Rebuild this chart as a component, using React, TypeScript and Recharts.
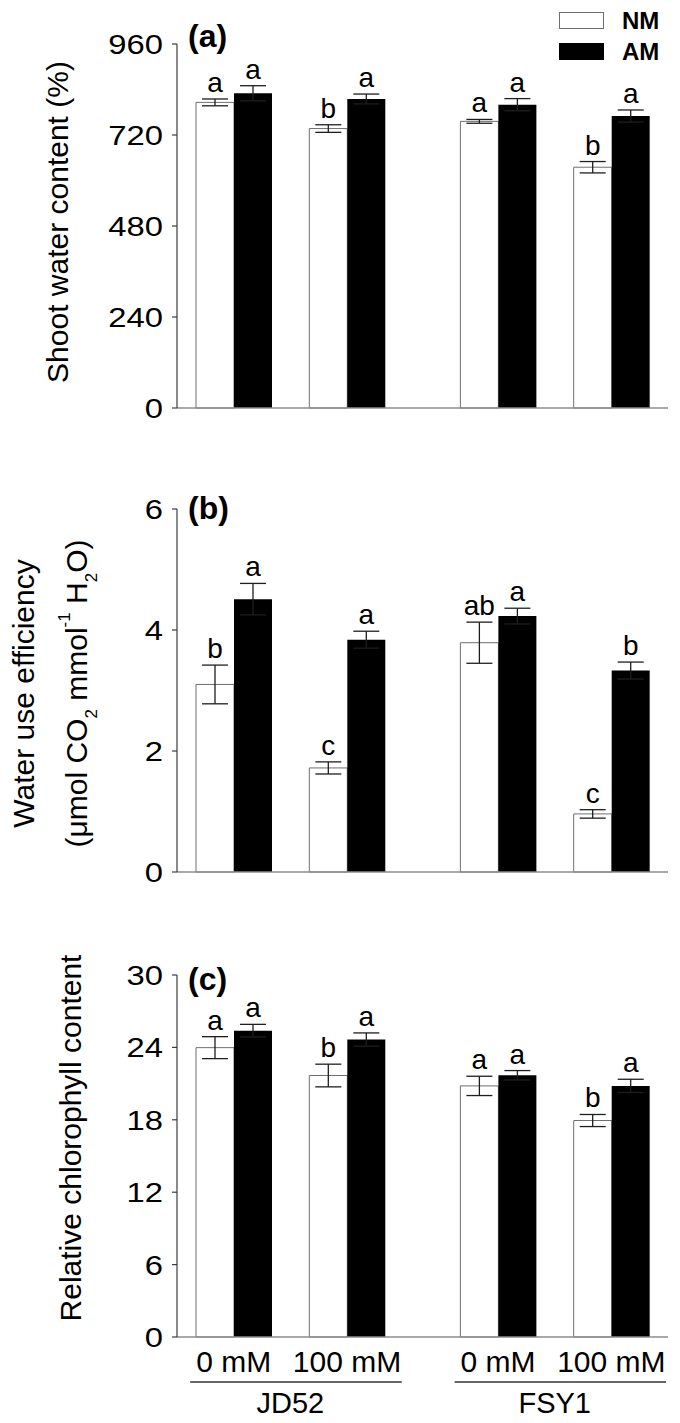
import {
  Bar,
  BarChart,
  ErrorBar,
  LabelList,
  Legend,
  XAxis,
  YAxis,
} from "recharts";

const FONT = "'Liberation Sans', Arial, Helvetica, sans-serif";
const COLOR_AXIS = "#3c3c3c";
const COLOR_BASE = "#8c8c8c";
const COLOR_NM_EDGE = "#6f6f6f";
const COLOR_ERR = "#1e1e1e";

// treatments and genotypes
const genotypes = ["JD52", "FSY1"];
const salinity = ["0 mM", "100 mM"];
const seriesNames = ["NM", "AM"];

// (a) shoot water content (%)
const swcNM = [806, 737, 756, 635];
const swcNMErr = [9, 10, 5, 15];
const swcAM = [830, 815, 800, 770];
const swcAMErr = [20, 13, 16, 16];
const swcNMSig = ["a", "b", "a", "b"];
const swcAMSig = ["a", "a", "a", "a"];
const swcTicks = [0, 240, 480, 720, 960];

// (b) water use efficiency
const wueNM = [3.1, 1.72, 3.79, 0.96];
const wueNMErr = [0.32, 0.1, 0.34, 0.07];
const wueAM = [4.51, 3.84, 4.23, 3.33];
const wueAMErr = [0.26, 0.14, 0.13, 0.14];
const wueNMSig = ["b", "c", "ab", "c"];
const wueAMSig = ["a", "a", "a", "b"];
const wueTicks = [0, 2, 4, 6];

// (c) relative chlorophyll content
const chlNM = [23.98, 21.67, 20.81, 17.94];
const chlNMErr = [0.91, 0.94, 0.8, 0.5];
const chlAM = [25.39, 24.65, 21.69, 20.81];
const chlAMErr = [0.52, 0.55, 0.39, 0.55];
const chlNMSig = ["a", "b", "a", "b"];
const chlAMSig = ["a", "a", "a", "a"];
const chlTicks = [0, 6, 12, 18, 24, 30];

// x layout: 13 bar-widths; each genotype = 2 x (2 bars + 1 gap), one extra gap between genotypes
const UNITS = 13;
const slotOf = (i: number) => 1.5 + 3 * (i % 2) + 7 * Math.floor(i / 2);
const genoCenter = (g: number) => 3 + 7 * g;

const CHART_W = 680;
const Y_AXIS_W = 177;
const RIGHT_M = 12;
const UNIT = (CHART_W - Y_AXIS_W - RIGHT_M) / UNITS;

type Row = {
  x: number;
  treatment: string;
  nm: number;
  nmErr: number;
  am: number;
  amErr: number;
  nmSig: string;
  amSig: string;
};

function buildRows(
  nm: number[],
  nmErr: number[],
  am: number[],
  amErr: number[],
  nmSig: string[],
  amSig: string[],
): Row[] {
  return nm.map((v, i) => ({
    x: slotOf(i),
    treatment: salinity[i % 2],
    nm: v,
    nmErr: nmErr[i],
    am: am[i],
    amErr: amErr[i],
    nmSig: nmSig[i],
    amSig: amSig[i],
  }));
}

const swcRows = buildRows(swcNM, swcNMErr, swcAM, swcAMErr, swcNMSig, swcAMSig);
const wueRows = buildRows(wueNM, wueNMErr, wueAM, wueAMErr, wueNMSig, wueAMSig);
const chlRows = buildRows(chlNM, chlNMErr, chlAM, chlAMErr, chlNMSig, chlAMSig);

// significance letter above the error bar
function sigLabel(rows: Row[], valueKey: "nm" | "am", errKey: "nmErr" | "amErr", sigKey: "nmSig" | "amSig") {
  return (props: any) => {
    const vb = props.viewBox ?? props;
    const row = rows[props.index];
    if (!row || !vb) return null;
    const h = Math.abs(Number(vb.height));
    const top = Math.min(Number(vb.y), Number(vb.y) + Number(vb.height));
    const errPx = (row[errKey] / row[valueKey]) * h;
    return (
      <text
        x={Number(vb.x) + Number(vb.width) / 2}
        y={top - errPx - 7}
        textAnchor="middle"
        fontFamily={FONT}
        fontSize={28}
        fill="#000"
      >
        {row[sigKey]}
      </text>
    );
  };
}

// y tick numbers are drawn a little wide in the original figure
function YTick(props: any) {
  const { x, y, payload } = props;
  return (
    <g transform={`translate(${x},${y}) scale(1.17,1)`}>
      <text textAnchor="end" dy="0.36em" fontSize={28} fontFamily={FONT} fill="#000">
        {payload.value}
      </text>
    </g>
  );
}

function LegendBox() {
  return (
    <div style={{ fontFamily: FONT, fontWeight: 700, fontSize: 24 }}>
      {seriesNames.map((name, i) => (
        <div key={name} style={{ display: "flex", alignItems: "center", height: 31 }}>
          <div
            style={{
              width: 45,
              height: 17,
              boxSizing: "border-box",
              background: i === 0 ? "#fff" : "#000",
              border: `1.5px solid ${i === 0 ? COLOR_NM_EDGE : "#000"}`,
              marginRight: 18,
            }}
          />
          <span>{name}</span>
        </div>
      ))}
    </div>
  );
}

function GenoTick(props: any) {
  const { x, y, index } = props;
  return (
    <g>
      <line
        x1={x - 2.65 * UNIT}
        x2={x + 2.95 * UNIT}
        y1={y + 5}
        y2={y + 5}
        stroke="#333"
        strokeWidth={1.5}
      />
      <text x={x} y={y + 36} textAnchor="middle" fontSize={29} fontFamily={FONT} fill="#000">
        {genotypes[index]}
      </text>
    </g>
  );
}

type PanelProps = {
  rows: Row[];
  yTicks: number[];
  height: number;
  marginTop: number;
  xAxisHeight: number;
  panelLabel: string;
  panelLabelDy: number;
  title: (vb: any) => any;
  legend?: boolean;
  bottomLabels?: boolean;
};

function Panel({
  rows,
  yTicks,
  height,
  marginTop,
  xAxisHeight,
  panelLabel,
  panelLabelDy,
  title,
  legend,
  bottomLabels,
}: PanelProps) {
  const xs = rows.map((r) => r.x);
  const yMax = yTicks[yTicks.length - 1];
  return (
    <BarChart
      width={CHART_W}
      height={height}
      data={rows}
      margin={{ top: marginTop, right: RIGHT_M, left: 0, bottom: 0 }}
      barGap={0}
    >
      <XAxis
        dataKey="x"
        type="number"
        domain={[0, UNITS]}
        allowDataOverflow
        ticks={xs}
        interval={0}
        height={xAxisHeight}
        axisLine={{ stroke: COLOR_BASE, strokeWidth: 1.6 }}
        tickLine={false}
        tickSize={0}
        tickMargin={14}
        tick={bottomLabels ? { fontSize: 30, fill: "#000", fontFamily: FONT } : false}
        tickFormatter={(v: number) => rows.find((r) => r.x === v)?.treatment ?? ""}
      />
      {bottomLabels && (
        <XAxis
          xAxisId="geno"
          dataKey="x"
          type="number"
          domain={[0, UNITS]}
          allowDataOverflow
          ticks={genotypes.map((_, g) => genoCenter(g))}
          interval={0}
          height={46}
          axisLine={false}
          tickLine={false}
          tickSize={0}
          tickMargin={0}
          tick={<GenoTick />}
        />
      )}
      <YAxis
        width={Y_AXIS_W}
        domain={[0, yMax]}
        ticks={yTicks}
        interval={0}
        axisLine={{ stroke: COLOR_AXIS, strokeWidth: 1.2 }}
        tickLine={{ stroke: COLOR_AXIS, strokeWidth: 1.2 }}
        tickSize={5}
        tickMargin={9}
        tick={<YTick />}
        label={(p: any) => {
          const vb = p.viewBox;
          return (
            <g>
              {title(vb)}
              <text
                x={vb.x + vb.width + 11}
                y={vb.y + panelLabelDy}
                fontSize={32}
                fontWeight={700}
                fontFamily={FONT}
                fill="#000"
              >
                {panelLabel}
              </text>
            </g>
          );
        }}
      />
      {legend && (
        <Legend
          layout="vertical"
          align="center"
          verticalAlign="middle"
          content={() => <LegendBox />}
          wrapperStyle={{ top: 5, left: 559, width: 121, height: 62 }}
        />
      )}
      <Bar
        dataKey="nm"
        name={seriesNames[0]}
        barSize={Math.round(UNIT)}
        fill="#fff"
        stroke={COLOR_NM_EDGE}
        strokeWidth={1}
        isAnimationActive={false}
      >
        <ErrorBar dataKey="nmErr" width={13} stroke={COLOR_ERR} strokeWidth={1.3} direction="y" />
        <LabelList dataKey="nmSig" content={sigLabel(rows, "nm", "nmErr", "nmSig")} />
      </Bar>
      <Bar
        dataKey="am"
        name={seriesNames[1]}
        barSize={Math.round(UNIT)}
        fill="#000"
        isAnimationActive={false}
      >
        <ErrorBar dataKey="amErr" width={13} stroke={COLOR_ERR} strokeWidth={1.3} direction="y" />
        <LabelList dataKey="amSig" content={sigLabel(rows, "am", "amErr", "amSig")} />
      </Bar>
    </BarChart>
  );
}

const titleSwc = (vb: any) => (
  <text
    transform={`translate(${vb.x + 68}, ${vb.y + vb.height / 2 - 4}) rotate(-90)`}
    textAnchor="middle"
    fontSize={30}
    fontFamily={FONT}
    fill="#000"
  >
    Shoot water content (%)
  </text>
);

const titleWue = (vb: any) => {
  const cy = vb.y + vb.height / 2 + 3;
  return (
    <g>
      <text
        transform={`translate(${vb.x + 34}, ${cy}) rotate(-90)`}
        textAnchor="middle"
        fontSize={30}
        fontFamily={FONT}
        fill="#000"
      >
        Water use efficiency
      </text>
      <text
        transform={`translate(${vb.x + 87}, ${cy}) rotate(-90)`}
        textAnchor="middle"
        fontSize={30}
        fontFamily={FONT}
        fill="#000"
      >
        (μmol CO
        <tspan dy={10} fontSize={17}>2</tspan>
        <tspan dy={-10}> mmol</tspan>
        <tspan dy={-17} fontSize={17}>-1</tspan>
        <tspan dy={17}> H</tspan>
        <tspan dy={10} fontSize={17}>2</tspan>
        <tspan dy={-10}>O)</tspan>
      </text>
    </g>
  );
};

const titleChl = (vb: any) => (
  <text
    transform={`translate(${vb.x + 81}, ${vb.y + vb.height / 2 - 18}) rotate(-90)`}
    textAnchor="middle"
    fontSize={30}
    fontFamily={FONT}
    fill="#000"
  >
    Relative chlorophyll content
  </text>
);

export default function App() {
  return (
    <div
      style={{
        position: "absolute",
        left: 0,
        top: 0,
        width: CHART_W,
        height: 1423,
        background: "#fff",
      }}
    >
      <Panel
        rows={swcRows}
        yTicks={swcTicks}
        height={465}
        marginTop={44}
        xAxisHeight={57}
        panelLabel="(a)"
        panelLabelDy={3}
        title={titleSwc}
        legend
      />
      <Panel
        rows={wueRows}
        yTicks={wueTicks}
        height={465}
        marginTop={44}
        xAxisHeight={58}
        panelLabel="(b)"
        panelLabelDy={10}
        title={titleWue}
      />
      <Panel
        rows={chlRows}
        yTicks={chlTicks}
        height={493}
        marginTop={45}
        xAxisHeight={40}
        panelLabel="(c)"
        panelLabelDy={15}
        title={titleChl}
        bottomLabels
      />
    </div>
  );
}
